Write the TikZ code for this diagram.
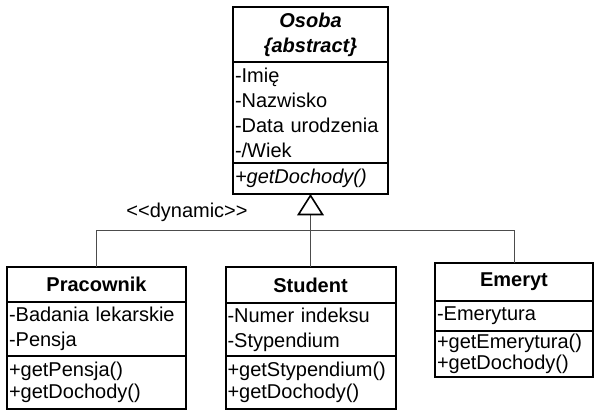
\documentclass[tikz,border=0pt]{standalone}
\usepackage{fontspec}
\setmainfont{Liberation Sans}
\usetikzlibrary{positioning,arrows.meta}

\begin{document}
\begin{tikzpicture}[x=0.75pt, y=-0.75pt,
    every node/.style={font=\fontsize{15pt}{18.75pt}\selectfont},
    compart/.style={draw, line width=1.5pt, outer sep=0pt, inner xsep=1.5pt, inner ysep=0pt, align=left},
    classhead/.style={compart, align=center, font=\fontsize{15pt}{18.75pt}\selectfont\bfseries},
    tree/.style={draw=black!70, line width=0.75pt}]

    \useasboundingbox (0,0) rectangle (600,417);

    \node[classhead, anchor=north, text width=113.25pt, minimum height=41.25pt] (osoba) at (310.5,7) {\itshape Osoba\\\itshape \{abstract\}};
    \node[compart, below=0pt of osoba, text width=113.25pt, minimum height=75.75pt] (osobaAttr) {-Imię\\-Nazwisko\\-Data urodzenia\\-/Wiek};
    \node[compart, below=0pt of osobaAttr, text width=113.25pt, minimum height=23.25pt] (osobaOps) {\itshape +getDochody()};

    \node[classhead, anchor=north, text width=131.25pt, minimum height=26.25pt] (pracownik) at (96.5,267) {Pracownik};
    \node[compart, below=0pt of pracownik, text width=131.25pt, minimum height=40.5pt] (pracownikAttr) {-Badania lekarskie\\-Pensja};
    \node[compart, below=0pt of pracownikAttr, text width=131.25pt, minimum height=39.75pt, font=\fontsize{15pt}{16.5pt}\selectfont] (pracownikOps) {+getPensja()\\+getDochody()};

    \node[classhead, anchor=north, text width=124.5pt, minimum height=27pt] (student) at (310.5,267) {Student};
    \node[compart, below=0pt of student, text width=124.5pt, minimum height=39.75pt] (studentAttr) {-Numer indeksu\\-Stypendium};
    \node[compart, below=0pt of studentAttr, text width=124.5pt, minimum height=39.75pt, font=\fontsize{15pt}{16.5pt}\selectfont] (studentOps) {+getStypendium()\\+getDochody()};

    \node[classhead, anchor=north, text width=115.5pt, minimum height=28.5pt] (emeryt) at (514,263) {Emeryt};
    \node[compart, below=0pt of emeryt, text width=115.5pt, minimum height=22.5pt] (emerytAttr) {-Emerytura};
    \node[compart, below=0pt of emerytAttr, text width=115.5pt, minimum height=34.5pt, font=\fontsize{15pt}{16pt}\selectfont] (emerytOps) {+getEmerytura()\\+getDochody()};

    \node (dyn) at (187,212) {<\kern0pt<dynamic>\kern0pt>};

    \coordinate (join) at (310.5,231);
    \draw[tree] (pracownik.north) |- (join);
    \draw[tree] (emeryt.north) |- (join);
    \draw[tree, -{Triangle[open, length=16pt, width=20pt, line width=1.2pt, color=black]}] (student.north) -- (osobaOps.south);

\end{tikzpicture}
\end{document}
